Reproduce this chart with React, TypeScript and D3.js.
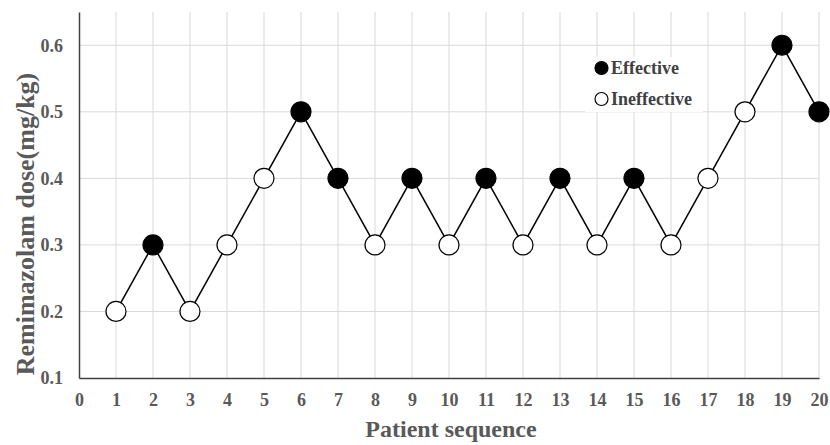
import React, { useEffect, useRef } from 'react';
import * as d3 from 'd3';

// patient sequence, dose (mg/kg), response
const patients = [1, 2, 3, 4, 5, 6, 7, 8, 9, 10, 11, 12, 13, 14, 15, 16, 17, 18, 19, 20];
const doses = [0.2, 0.3, 0.2, 0.3, 0.4, 0.5, 0.4, 0.3, 0.4, 0.3, 0.4, 0.3, 0.4, 0.3, 0.4, 0.3, 0.4, 0.5, 0.6, 0.5];
const effective = [false, true, false, false, false, true, true, false, true, false, true, false, true, false, true, false, false, false, true, true];
const xTicks = d3.range(0, 21);
const yTicks = [0.1, 0.2, 0.3, 0.4, 0.5, 0.6];
const legendItems = [
    { label: 'Effective', filled: true },
    { label: 'Ineffective', filled: false },
];

export default function App() {
    const ref = useRef<SVGSVGElement | null>(null);

    useEffect(() => {
        if (!ref.current) return;
        const svg = d3.select(ref.current);
        svg.selectAll('*').remove();

        const left = 79, right = 819, top = 12, bottom = 378;
        const font = '"Liberation Serif", "Times New Roman", serif';
        const textColor = '#595959';

        const x = d3.scaleLinear().domain([0, 20]).range([left, right]);
        const y = d3.scaleLinear().domain([0.1, 0.65]).range([bottom, top]);

        // grid
        const grid = svg.append('g').attr('stroke', '#d9d9d9').attr('stroke-width', 1);
        grid.selectAll('.gx').data(xTicks.slice(1)).join('line')
            .attr('x1', d => x(d)).attr('x2', d => x(d))
            .attr('y1', top).attr('y2', bottom);
        grid.selectAll('.gy').data(yTicks.slice(1)).join('line')
            .attr('x1', left).attr('x2', right)
            .attr('y1', d => y(d)).attr('y2', d => y(d));

        // legend backdrop hides grid
        svg.append('rect').attr('x', 585).attr('y', 57).attr('width', 118).attr('height', 55).attr('fill', '#fff');

        // axes
        const xAxis = svg.append('g').attr('transform', `translate(0,${bottom})`)
            .call(d3.axisBottom(x).tickValues(xTicks).tickSize(0).tickFormat(d3.format('d')));
        xAxis.select('.domain').attr('stroke', '#404040').attr('stroke-width', 1.5);
        xAxis.selectAll('text').attr('dy', 0).attr('y', 28)
            .style('font-family', font).style('font-weight', 'bold').style('font-size', '18px').attr('fill', textColor);

        const yAxis = svg.append('g').attr('transform', `translate(${left},0)`)
            .call(d3.axisLeft(y).tickValues(yTicks).tickSize(0).tickFormat(d3.format('.1f')));
        yAxis.select('.domain').attr('stroke', '#404040').attr('stroke-width', 1.5);
        yAxis.selectAll('text').attr('x', -16)
            .style('font-family', font).style('font-weight', 'bold').style('font-size', '18px').attr('fill', textColor);

        // axis titles
        svg.append('text').attr('x', 451).attr('y', 437).attr('text-anchor', 'middle')
            .style('font-family', font).style('font-weight', 'bold').style('font-size', '24px').attr('fill', textColor)
            .text('Patient sequence');
        svg.append('text').attr('transform', 'translate(34,224) rotate(-90)').attr('text-anchor', 'middle')
            .style('font-family', font).style('font-weight', 'bold').style('font-size', '26px').attr('fill', textColor)
            .text('Remimazolam dose(mg/kg)');

        // data line
        const pts = patients.map((p, i) => ({ p, v: doses[i], eff: effective[i] }));
        svg.append('path').datum(pts)
            .attr('fill', 'none').attr('stroke', '#000').attr('stroke-width', 1.5)
            .attr('d', d3.line<typeof pts[0]>().x(d => x(d.p)).y(d => y(d.v)));
        svg.selectAll('.pt').data(pts).join('circle')
            .attr('cx', d => x(d.p)).attr('cy', d => y(d.v)).attr('r', 10)
            .attr('fill', d => d.eff ? '#000' : '#fff').attr('stroke', '#000').attr('stroke-width', 1.2);

        // legend
        const lg = svg.append('g');
        legendItems.forEach((it, i) => {
            const cy = 68 + i * 31;
            lg.append('circle').attr('cx', 601.5).attr('cy', cy).attr('r', 6.5)
                .attr('fill', it.filled ? '#000' : '#fff').attr('stroke', '#000').attr('stroke-width', 1.2);
            lg.append('text').attr('x', 611).attr('y', cy).attr('dy', '0.35em')
                .style('font-family', font).style('font-weight', 'bold').style('font-size', '18px').attr('fill', '#404040')
                .text(it.label);
        });
    }, []);

    return (
        <div style={{ position: 'absolute', left: 0, top: 0, width: 830, height: 445, background: '#fff', overflow: 'hidden' }}>
            <svg ref={ref} width={830} height={445} style={{ display: 'block' }} />
        </div>
    );
}
